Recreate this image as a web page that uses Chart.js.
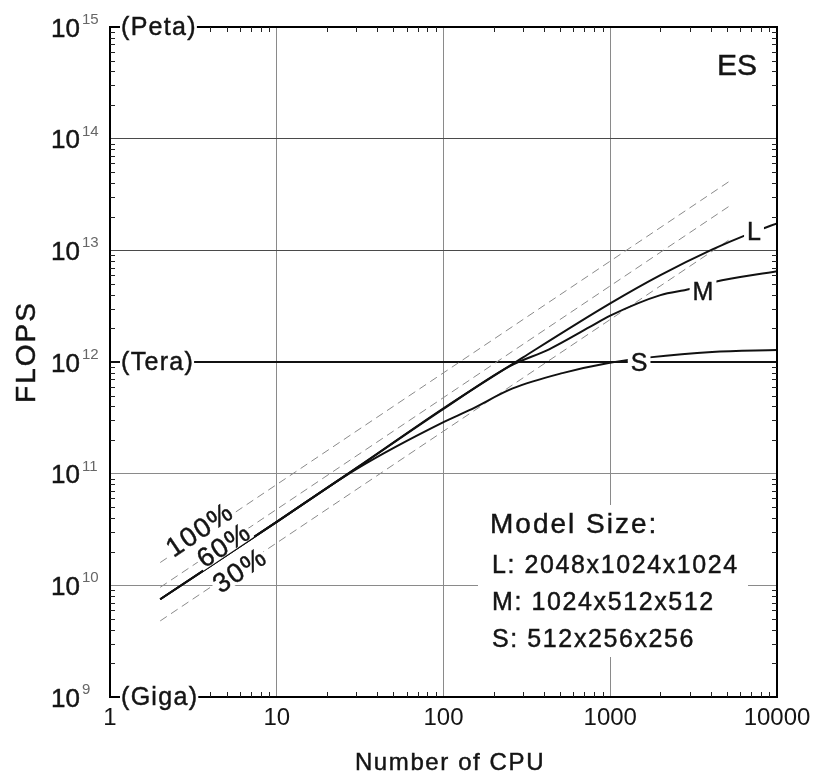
<!DOCTYPE html>
<html><head><meta charset="utf-8">
<script src="https://cdn.jsdelivr.net/npm/chart.js@4.4.1/dist/chart.umd.min.js"></script>
<style>html,body{margin:0;padding:0;background:#fff}canvas{display:block}</style>
</head><body>
<canvas id="c" width="823" height="774" style="width:823px;height:774px"></canvas>
<script>
const FONT = '"Liberation Sans", Arial, Helvetica, sans-serif';
const INK = '#141414';

// ---- axis ticks ----
const xTicks = [1, 10, 100, 1000, 10000];
const yTicks = [1e9, 1e10, 1e11, 1e12, 1e13, 1e14, 1e15];
const yExponents = ['9', '10', '11', '12', '13', '14', '15'];

// ---- measured curves (Number of CPU -> FLOPS) ----
const cpuL   = [2, 10, 30, 100, 300, 1000, 2000, 4100, 6500, 10000];
const flopsL = [7.5e9, 3.7e10, 1.12e11, 3.85e11, 1.1e12, 3.35e12, 6.0e12, 1.02e13, 1.37e13, 1.74e13];

const cpuM   = [2, 10, 30, 100, 250, 430, 750, 1000, 2000, 3000, 4200, 10000];
const flopsM = [7.5e9, 3.7e10, 1.12e11, 3.8e11, 9.2e11, 1.3e12, 2.05e12, 2.6e12, 3.97e12, 4.5e12, 5.2e12, 6.5e12];

const cpuS   = [2, 10, 30, 100, 143, 260, 516, 977, 1720, 4080, 10000];
const flopsS = [7.5e9, 3.7e10, 1.1e11, 2.9e11, 3.7e11, 5.8e11, 7.95e11, 9.8e11, 1.1e12, 1.23e12, 1.28e12];

// ---- efficiency reference lines ----
const refCpu = [2, 5120];
const ref100 = [1.6e10, 4.1e13];
const ref60  = [9.6e9, 2.46e13];
const ref30  = [4.8e9, 1.23e13];

// ---- Tera line ----
const teraCpu = [1, 10000];
const teraFlops = [1e12, 1e12];

// ---- annotations ----
const pctLabels = ['100%', '60%', '30%'];
const pctCpu    = [3.4, 4.75, 5.93];
const pctFlops  = [3.17e10, 2.3e10, 1.37e10];

const curveLabels = ['L', 'M', 'S'];
const curveLabelCpu = [7280, 3600, 1490];
const curveLabelFlops = [1.49e13, 4.32e12, 1.0e12];

const unitLabels = ['(Peta)', '(Tera)', '(Giga)'];
const unitValues = [1e15, 1e12, 1e9];

const modelTitle = 'Model Size:';
const modelLines = ['L: 2048x1024x1024', 'M: 1024x512x512', 'S: 512x256x256'];
const machineLabel = 'ES';
const xTitle = 'Number of CPU';
const yTitle = 'FLOPS';

const pts = (xs, ys) => xs.map((v, i) => ({x: v, y: ys[i]}));

const curve = (data) => ({data, borderColor: '#111', borderWidth: 2, pointRadius: 0, cubicInterpolationMode: 'monotone', fill: false});
const dashed = (data) => ({data, borderColor: '#8a8a8a', borderWidth: 1, borderDash: [8, 5], pointRadius: 0, fill: false});

function inkText(ctx, text, px, py, sw) {
  ctx.fillText(text, px, py);
  ctx.lineWidth = sw === undefined ? 0.45 : sw;
  ctx.strokeStyle = ctx.fillStyle;
  ctx.strokeText(text, px, py);
}

function drawLabel(ctx, text, cx, cy, size, spacing, angle, padX, padY) {
  ctx.save();
  ctx.font = size + 'px ' + FONT;
  ctx.letterSpacing = spacing + 'px';
  const w = ctx.measureText(text).width - spacing;
  const cap = size * 0.716;
  ctx.translate(cx, cy);
  if (angle) ctx.rotate(angle);
  ctx.fillStyle = '#fff';
  ctx.fillRect(-w / 2 - padX, -cap / 2 - padY, w + 2 * padX, cap + 2 * padY);
  ctx.fillStyle = INK;
  ctx.textAlign = 'left';
  ctx.textBaseline = 'alphabetic';
  inkText(ctx, text, -w / 2, cap / 2);
  ctx.restore();
}

const deco = {
  id: 'deco',
  afterDraw(chart) {
    const {ctx, chartArea: a, scales: {x, y}} = chart;
    ctx.save();
    // frame
    ctx.strokeStyle = '#000';
    ctx.lineWidth = 2;
    ctx.strokeRect(a.left, a.top, a.right - a.left, a.bottom - a.top);
    // minor ticks (inward)
    ctx.lineWidth = 1;
    ctx.strokeStyle = '#222';
    ctx.beginPath();
    for (let d = 1; d < 10000; d *= 10) {
      for (let m = 2; m <= 9; m++) {
        const px = Math.round(x.getPixelForValue(d * m)) + 0.5;
        ctx.moveTo(px, a.top); ctx.lineTo(px, a.top + 5);
        ctx.moveTo(px, a.bottom); ctx.lineTo(px, a.bottom - 5);
      }
    }
    for (let e = 9; e < 15; e++) {
      for (let m = 2; m <= 9; m++) {
        const py = Math.round(y.getPixelForValue(m * Math.pow(10, e))) + 0.5;
        ctx.moveTo(a.left, py); ctx.lineTo(a.left + 5, py);
        ctx.moveTo(a.right, py); ctx.lineTo(a.right - 5, py);
      }
    }
    ctx.stroke();
    ctx.restore();

    // y tick labels with superscripts
    ctx.save();
    yTicks.forEach((v, i) => {
      const py = y.getPixelForValue(v);
      ctx.font = '26px ' + FONT;
      ctx.fillStyle = INK;
      ctx.textAlign = 'right';
      ctx.textBaseline = 'alphabetic';
      inkText(ctx, '10', 80, py + 9.5);
      ctx.font = '15px ' + FONT;
      ctx.fillStyle = '#666';
      ctx.textAlign = 'left';
      ctx.fillText(yExponents[i], 82, py - 3);
    });
    ctx.restore();

    // unit labels
    unitLabels.forEach((t, i) => {
      const py = y.getPixelForValue(unitValues[i]);
      ctx.save();
      ctx.font = '25px ' + FONT;
      ctx.letterSpacing = '1.3px';
      const w = ctx.measureText(t).width;
      ctx.fillStyle = '#fff';
      ctx.fillRect(120, py - 12, w + 1, 24);
      ctx.fillStyle = INK;
      ctx.textBaseline = 'alphabetic';
      inkText(ctx, t, 121, py + 7.5);
      ctx.restore();
    });

    // curve labels
    curveLabels.forEach((t, i) => {
      drawLabel(ctx, t, x.getPixelForValue(curveLabelCpu[i]), y.getPixelForValue(curveLabelFlops[i]), 25, 0, 0, 3, 3);
    });

    // percent labels
    const ang = -Math.atan2(y.getPixelForValue(1e9) - y.getPixelForValue(1e10), x.getPixelForValue(10) - x.getPixelForValue(1));
    pctLabels.forEach((t, i) => {
      drawLabel(ctx, t, x.getPixelForValue(pctCpu[i]), y.getPixelForValue(pctFlops[i]), 27, 1.5, ang, 2, 1);
    });

    // model size box
    ctx.save();
    ctx.fillStyle = '#fff';
    ctx.fillRect(478, 505, 270, 152);
    ctx.fillStyle = INK;
    ctx.textBaseline = 'alphabetic';
    ctx.font = '28px ' + FONT;
    ctx.letterSpacing = '2px';
    inkText(ctx, modelTitle, 490, 533);
    ctx.font = '25px ' + FONT;
    ctx.letterSpacing = '1.6px';
    modelLines.forEach((t, i) => inkText(ctx, t, 492, 573 + i * 37));
    ctx.restore();

    // ES
    ctx.save();
    ctx.font = '30px ' + FONT;
    ctx.fillStyle = INK;
    ctx.textAlign = 'right';
    inkText(ctx, machineLabel, 757, 75);
    ctx.restore();

    // axis titles
    ctx.save();
    ctx.fillStyle = INK;
    ctx.font = '24px ' + FONT;
    ctx.letterSpacing = '1.6px';
    ctx.textAlign = 'center';
    ctx.textBaseline = 'alphabetic';
    inkText(ctx, xTitle, 450, 770);
    ctx.translate(35, 353);
    ctx.rotate(-Math.PI / 2);
    ctx.font = '28px ' + FONT;
    ctx.letterSpacing = '2px';
    inkText(ctx, yTitle, 1, 0);
    ctx.restore();
  }
};

const gridColor = (c) => {
  const v = c.tick && c.tick.value;
  return (v === 1e13 || v === 1e14) ? '#4a4a4a' : '#8a8a8a';
};

new Chart(document.getElementById('c'), {
  type: 'line',
  data: {
    datasets: [
      curve(pts(cpuL, flopsL)),
      curve(pts(cpuM, flopsM)),
      curve(pts(cpuS, flopsS)),
      dashed(pts(refCpu, ref100)),
      dashed(pts(refCpu, ref60)),
      dashed(pts(refCpu, ref30)),
      {data: pts(teraCpu, teraFlops), borderColor: '#111', borderWidth: 2, pointRadius: 0, fill: false}
    ]
  },
  options: {
    responsive: false,
    animation: false,
    layout: {padding: {top: 27, right: 46, left: 0, bottom: 0}},
    plugins: {legend: {display: false}, tooltip: {enabled: false}},
    scales: {
      x: {
        type: 'logarithmic', min: 1, max: 10000, position: 'bottom',
        afterBuildTicks: s => { s.ticks = xTicks.map(v => ({value: v})); },
        afterFit: s => { s.height = 77; },
        grid: {color: '#8a8a8a', lineWidth: 1, drawTicks: false},
        border: {display: true, color: '#000', width: 2},
        ticks: {font: {family: FONT, size: 24}, color: INK, padding: 7, maxRotation: 0, autoSkip: false, callback: v => String(v)}
      },
      y: {
        type: 'logarithmic', min: 1e9, max: 1e15, position: 'left',
        afterBuildTicks: s => { s.ticks = yTicks.map(v => ({value: v})); },
        afterFit: s => { s.width = 110; },
        grid: {color: gridColor, lineWidth: 1, drawTicks: false},
        border: {display: true, color: '#000', width: 2},
        ticks: {display: false}
      }
    }
  },
  plugins: [deco]
});
</script>
</body></html>
